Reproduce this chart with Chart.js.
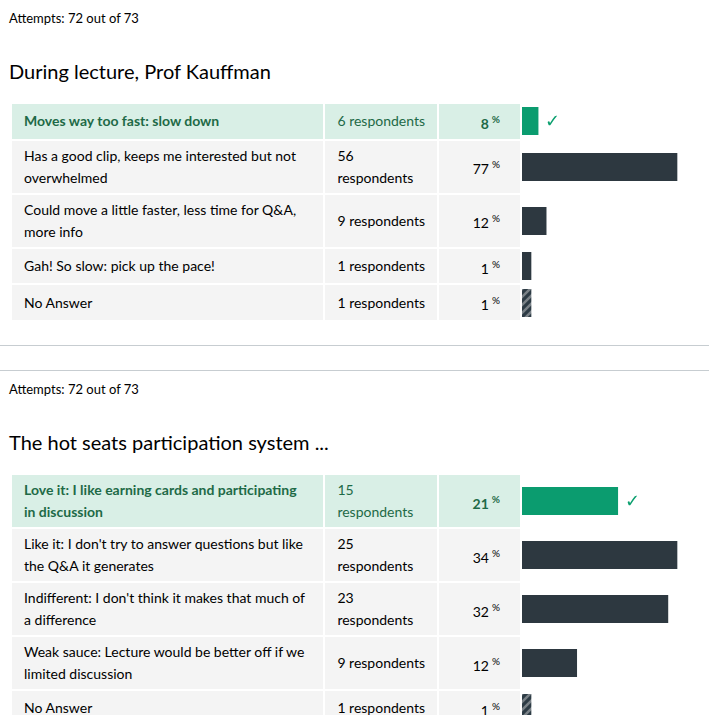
<!DOCTYPE html>
<html>
<head>
<meta charset="utf-8">
<script src="https://cdn.jsdelivr.net/npm/chart.js@4"></script>
<style>
  body { margin: 0; font-family: Lato, "Noto Sans", sans-serif; color: #2d3b45; background: #fff; width: 709px; }
  .q { padding: 10px 0 0 9px; }
  .attempts { font-size: 13px; line-height: 16px; color: #000; }
  h2 { font-size: 20px; font-weight: normal; margin: 33px 0 0 0; line-height: 24px; color: #000; }
  table { border-spacing: 2px; margin: 19px 0 0 1px; }
  td { background: #f4f4f4; font-size: 14px; line-height: 22px; padding: 4px 12px; color: #000; vertical-align: middle; }
  td.ans { width: 290px; }
  td.resp { width: 88px; }
  td.pct { width: 49px; text-align: right; padding-right: 20px; }
  td.pct sup { font-size: 10px; margin-left: 3px; }
  td.bar { background: #fff; width: 185px; padding: 0; }
  tr.correct td { background: #d9efe6; color: #1e6a47; }
  tr.correct td.pct { font-weight: bold; }
  tr.correct td.ans { font-weight: bold; }
  tr.correct td.bar { background: #fff; }
  .barwrap { position: relative; height: 28px; width: 185px; }
  .check { position: absolute; top: 2px; font-size: 18px; color: #0a9f6e; }
  hr { border: 0; border-top: 1px solid #c7cdd1; margin: 0; }
</style>
</head>
<body>
<div id="root"></div>
<script>
const titles = ['During lecture, Prof Kauffman', 'The hot seats participation system ...'];
const attempts = ['Attempts: 72 out of 73', 'Attempts: 72 out of 73'];
const answers1 = ['Moves way too fast: slow down', 'Has a good clip, keeps me interested but not overwhelmed', 'Could move a little faster, less time for Q&A, more info', 'Gah! So slow: pick up the pace!', 'No Answer'];
const counts1 = [6, 56, 9, 1, 1];
const percents1 = [8, 77, 12, 1, 1];
const answers2 = ['Love it: I like earning cards and participating in discussion', "Like it: I don't try to answer questions but like the Q&A it generates", "Indifferent: I don't think it makes that much of a difference", 'Weak sauce: Lecture would be better off if we limited discussion', 'No Answer'];
const counts2 = [15, 25, 23, 9, 1];
const percents2 = [21, 34, 32, 12, 1];
const correctIdx = [0, 0];

function stripes() {
  const c = document.createElement('canvas');
  c.width = 8; c.height = 8;
  const g = c.getContext('2d');
  g.fillStyle = '#2d3b45'; g.fillRect(0, 0, 8, 8);
  g.strokeStyle = '#7a8288'; g.lineWidth = 2.5;
  g.beginPath(); g.moveTo(-2, 10); g.lineTo(10, -2); g.moveTo(-2, 2); g.lineTo(2, -2); g.moveTo(6, 10); g.lineTo(10, 6); g.stroke();
  return g.createPattern(c, 'repeat');
}

function section(qi, answers, counts, percents) {
  const root = document.getElementById('root');
  const d = document.createElement('div');
  d.className = 'q';
  d.innerHTML = '<div class="attempts">' + attempts[qi] + '</div><h2>' + titles[qi] + '</h2>';
  const t = document.createElement('table');
  d.appendChild(t);
  root.appendChild(d);
  const max = Math.max(...percents);
  answers.forEach((a, i) => {
    const tr = document.createElement('tr');
    if (i === correctIdx[qi]) tr.className = 'correct';
    const ans = document.createElement('td'); ans.className = 'ans'; ans.textContent = a;
    const resp = document.createElement('td'); resp.className = 'resp'; resp.textContent = counts[i] + ' respondents';
    const pct = document.createElement('td'); pct.className = 'pct'; pct.innerHTML = percents[i] + '<sup>%</sup>';
    const bar = document.createElement('td'); bar.className = 'bar';
    const wrap = document.createElement('div'); wrap.className = 'barwrap';
    const cv = document.createElement('canvas');
    wrap.appendChild(cv);
    bar.appendChild(wrap);
    tr.append(ans, resp, pct, bar);
    t.appendChild(tr);
    const color = i === correctIdx[qi] ? '#0b9c6f' : (a === 'No Answer' ? stripes() : '#2d3840');
    const ch = new Chart(cv, {
      type: 'bar',
      data: { labels: [a], datasets: [{ data: [percents[i]], backgroundColor: color, barPercentage: 1, categoryPercentage: 1, minBarLength: 9 }] },
      options: {
        indexAxis: 'y', responsive: true, maintainAspectRatio: false, animation: false,
        layout: { padding: 0 },
        plugins: { legend: { display: false }, tooltip: { enabled: false } },
        scales: {
          x: { display: false, min: 0, max: max * 185 / 155 },
          y: { display: false }
        }
      }
    });
    if (i === correctIdx[qi] && ch.scales && ch.scales.x) {
      const chk = document.createElement('span');
      chk.className = 'check'; chk.textContent = '✓';
      chk.style.left = (ch.scales.x.getPixelForValue(percents[i]) + 7) + 'px';
      wrap.appendChild(chk);
    }
  });
}

section(0, answers1, counts1, percents1);
const sep = document.createElement('div');
sep.innerHTML = '<div style="height:23px"></div><hr><div style="height:24px"></div><hr>';
document.getElementById('root').appendChild(sep);
section(1, answers2, counts2, percents2);
</script>
</body>
</html>
